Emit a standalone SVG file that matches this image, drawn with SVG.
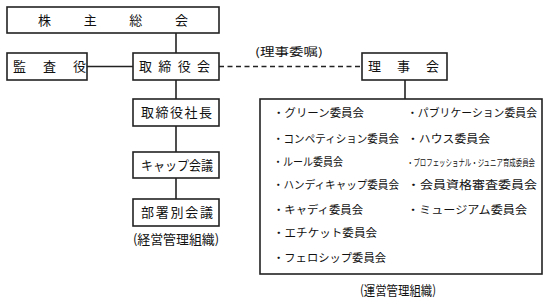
<svg xmlns="http://www.w3.org/2000/svg" width="548" height="306" viewBox="0 0 548 306">
<style>
.box{fill:#fff;stroke:#222;stroke-width:1.6}
.ln{stroke:#222;stroke-width:1.6;fill:none}
.dash{stroke:#222;stroke-width:1.4;fill:none;stroke-dasharray:5 3.5}
text{font-family:"Noto Sans CJK JP","Noto Sans CJK SC",sans-serif;fill:#111}
.t{font-size:13px}
.s{font-size:11px}
</style>
<rect width="548" height="306" fill="#fff"/>
<g id="connectors">
<line class="ln" x1="176" y1="33" x2="176" y2="53"/>
<line class="ln" x1="87" y1="66.5" x2="133" y2="66.5"/>
<line class="dash" x1="219" y1="66.5" x2="362" y2="66.5"/>
<line class="ln" x1="176" y1="80" x2="176" y2="99"/>
<line class="ln" x1="176" y1="126" x2="176" y2="152"/>
<line class="ln" x1="176" y1="178" x2="176" y2="199"/>
<line class="ln" x1="405" y1="80" x2="405" y2="99"/>
<text class="s" x="255" y="56" textLength="68" lengthAdjust="spacingAndGlyphs">(理事委嘱)</text>
</g>
<g id="kabunushi">
<rect class="box" x="7" y="7" width="212" height="26"/>
<text class="t" x="38" y="25" textLength="150" lengthAdjust="spacing">株主総会</text>
</g>
<g id="kansayaku">
<rect class="box" x="7" y="53" width="80" height="27"/>
<text class="t" x="13" y="71" textLength="73" lengthAdjust="spacing">監査役</text>
</g>
<g id="torishimariyakukai">
<rect class="box" x="133" y="53" width="86" height="27"/>
<text class="t" x="139" y="71" textLength="71" lengthAdjust="spacing">取締役会</text>
</g>
<g id="rijikai">
<rect class="box" x="362" y="53" width="85" height="27"/>
<text class="t" x="368" y="71" textLength="71" lengthAdjust="spacing">理事会</text>
</g>
<g id="shacho">
<rect class="box" x="133" y="99" width="86" height="27"/>
<text class="t" x="141" y="117" textLength="71" lengthAdjust="spacing">取締役社長</text>
</g>
<g id="cap">
<rect class="box" x="133" y="152" width="86" height="26"/>
<text class="t" x="141" y="169.5" textLength="72" lengthAdjust="spacingAndGlyphs">キャップ会議</text>
</g>
<g id="bushobetsu">
<rect class="box" x="133" y="199" width="86" height="27"/>
<text class="t" x="141" y="217" textLength="72" lengthAdjust="spacing">部署別会議</text>
<text class="t" x="133" y="244" textLength="86" lengthAdjust="spacingAndGlyphs">(経営管理組織)</text>
</g>
<g id="committees">
<rect class="box" x="260" y="99" width="282" height="175"/>
<text class="s" x="273" y="117" textLength="91" lengthAdjust="spacingAndGlyphs">・グリーン委員会</text>
<text class="s" x="273" y="143" textLength="126" lengthAdjust="spacingAndGlyphs">・コンペティション委員会</text>
<text class="s" x="273" y="166" textLength="70" lengthAdjust="spacingAndGlyphs">・ルール委員会</text>
<text class="s" x="273" y="189" textLength="126" lengthAdjust="spacingAndGlyphs">・ハンディキャップ委員会</text>
<text class="s" x="273" y="214" textLength="90" lengthAdjust="spacingAndGlyphs">・キャディ委員会</text>
<text class="s" x="273" y="237" textLength="104" lengthAdjust="spacingAndGlyphs">・エチケット委員会</text>
<text class="s" x="273" y="262" textLength="113" lengthAdjust="spacingAndGlyphs">・フェロシップ委員会</text>
<text class="s" x="407" y="117" textLength="130" lengthAdjust="spacingAndGlyphs">・パブリケーション委員会</text>
<text class="s" x="407" y="143" textLength="83" lengthAdjust="spacingAndGlyphs">・ハウス委員会</text>
<text x="407" y="165.5" font-size="9.5" textLength="128" lengthAdjust="spacingAndGlyphs">・プロフェッショナル・ジュニア育成委員会</text>
<text class="s" x="407" y="189" textLength="130" lengthAdjust="spacingAndGlyphs">・会員資格審査委員会</text>
<text class="s" x="407" y="214" textLength="120" lengthAdjust="spacingAndGlyphs">・ミュージアム委員会</text>
<text class="t" x="360" y="295" textLength="76" lengthAdjust="spacingAndGlyphs">(運営管理組織)</text>
</g>
</svg>
